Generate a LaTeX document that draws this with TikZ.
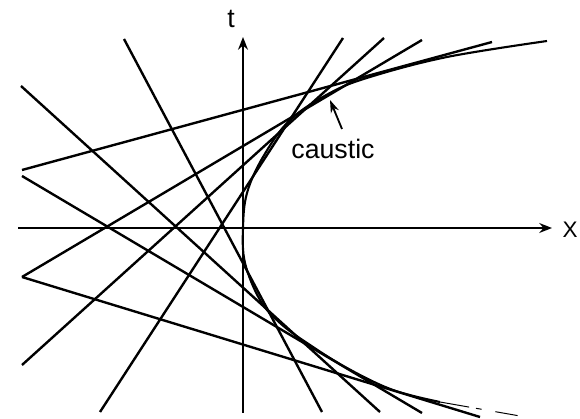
\documentclass[tikz,border=0pt]{standalone}
\usepackage{fontspec}
\setmainfont{Liberation Sans}
\usetikzlibrary{arrows.meta}
\definecolor{ink}{HTML}{000000}

\begin{document}
\begin{tikzpicture}[x=0.025cm, y=-0.025cm, every node/.style={font=\fontsize{19}{20}\selectfont},
    ray/.style={ink, line width=1.7pt},
    axis/.style={ink, line width=2pt, -{Stealth[length=9pt,width=7pt]}}]
  \useasboundingbox (0,0) rectangle (580,419);
  % characteristics
  \foreach \xa/\ya/\xb/\yb in {124/39/322/412, 21/86/380/412, 22/176/422/413, 22/277/480/417,
      22/170/492/42, 22/277/422/40, 22/365/384/38, 100/412/343/38}{
    \draw[ray] (\xa,\ya) -- (\xb,\yb);
  }
  % caustic
  \draw[ray, line width=1.5pt] plot[smooth, tension=0.6] coordinates {(547,41) (447,57) (370,77) (330,93)
      (290,120) (263,157) (247,193) (243,228) (245,263) (260,300) (280,323) (307,343)
      (347,368) (393,390) (440,402)};
  \draw[ink, line width=0.7pt, dash pattern=on 21pt off 5pt on 4pt off 10pt on 16pt] (440,402) -- (520,416);
  % axes
  \coordinate (xstart) at (18,228);
  \coordinate (xend) at (552,228);
  \coordinate (tstart) at (243,413);
  \coordinate (tend) at (243,37);
  \draw[axis] (xstart) -- (xend);
  \draw[axis] (tstart) -- (tend);
  \node (xlab) at (570,230) {\fontsize{16}{17}\selectfont X};
  \node (tlab) at (231,19) {t};
  % label
  \node (clab) at (333,149) {caustic};
  \coordinate (ctail) at (342,129);
  \coordinate (ctip) at (330,100);
  \draw[ink, line width=1.3pt, -{Stealth[length=9pt,width=6pt]}] (ctail) -- (ctip);
\end{tikzpicture}
\end{document}
